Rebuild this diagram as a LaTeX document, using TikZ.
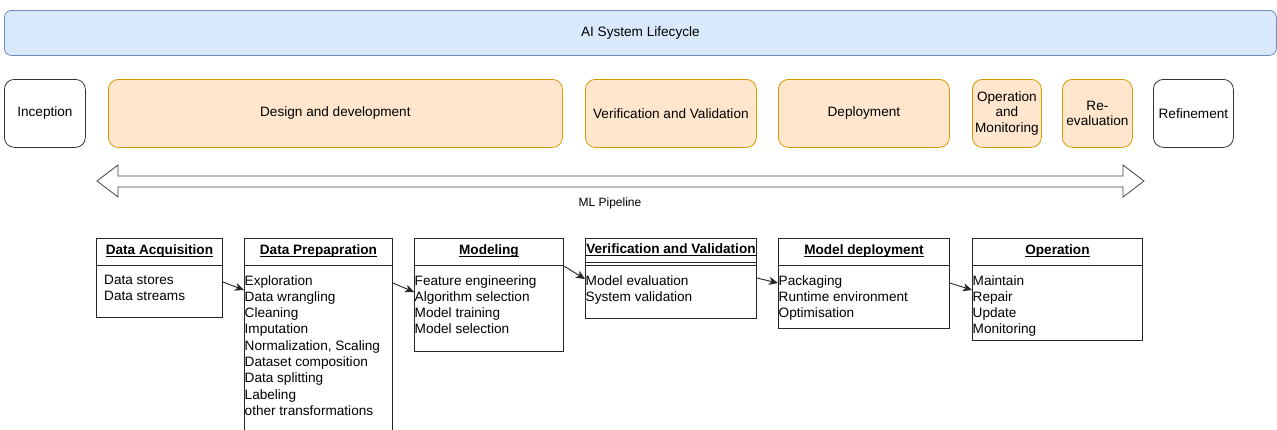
\documentclass[tikz,border=0pt]{standalone}
\usepackage{fontspec}
\setmainfont{Liberation Sans}
\usetikzlibrary{arrows.meta,calc}
\definecolor{bluefill}{HTML}{DAE8FC}
\definecolor{blueline}{HTML}{6C8EBF}
\definecolor{orfill}{HTML}{FFE6CC}
\definecolor{orline}{HTML}{D79B00}
\newcommand\myul[1]{\leavevmode\setbox0\hbox{#1}\dp0=0pt\vtop{\copy0\kern1.6pt\hrule height0.8pt}}
\begin{document}
\begin{tikzpicture}[x=1pt,y=-1pt,
 phase/.style={draw=orline, fill=orfill, rounded corners=10pt, line width=0.8pt, anchor=north west, inner sep=0pt, align=center, minimum height=68pt, font=\fontsize{13.6}{15.6}\selectfont},
 plainph/.style={phase, draw=black!80, fill=white},
 lane/.style={draw=black!85, line width=0.9pt, anchor=north west, inner sep=0pt},
 hdr/.style={font=\fontsize{13.6}{15}\selectfont\bfseries, inner sep=0pt},
 body/.style={anchor=north west, inner sep=0pt, align=left, font=\fontsize{13.6}{16.3}\selectfont},
 arr/.style={-{Stealth[length=9pt,width=8pt,inset=2.5pt]}, line width=0.9pt, black!85},
 hline/.style={draw=black!85, line width=0.9pt}
]
\useasboundingbox (0,0) rectangle (1277,429);
% top bar
\node[draw=blueline, fill=bluefill, rounded corners=7pt, line width=0.8pt, anchor=north west, minimum width=1272pt, minimum height=45pt, font=\fontsize{13.6}{15}\selectfont] (ai) at (4,10) {AI System Lifecycle};
% phases
\node[plainph, minimum width=81pt] (inc) at (4,79) {Inception};
\node[phase, minimum width=454pt] (des) at (108,79) {Design and development};
\node[phase, minimum width=171pt] (pvv) at (585,79) {Verification and Validation};
\node[phase, minimum width=171pt] (dep) at (778,79) {Deployment};
\node[phase, minimum width=69pt] (opm) at (972,79) {Operation\\and\\Monitoring};
\node[phase, minimum width=70pt] (ree) at (1062,79) {Re-\\evaluation};
\node[plainph, minimum width=80pt] (ref) at (1153,79) {Refinement};
% double arrow
\draw[fill=white, draw=black!75, line width=0.8pt] (97,181) -- (118,165) -- (118,176) -- (1123,176) -- (1123,165) -- (1144,181) -- (1123,197) -- (1123,187) -- (118,187) -- (118,197) -- cycle;
\node[font=\fontsize{12}{14}\selectfont] (ml) at (610,203) {ML Pipeline};
% lanes
\node[lane, minimum width=126pt, minimum height=79pt] (da) at (96,238) {};
\node[lane, minimum width=148pt, minimum height=200pt] (dp) at (244,238) {};
\node[lane, minimum width=149pt, minimum height=113pt] (mod) at (414,238) {};
\node[lane, minimum width=171pt, minimum height=80pt] (vv) at (585,238) {};
\node[lane, minimum width=171pt, minimum height=90pt] (md) at (778,238) {};
\node[lane, minimum width=170pt, minimum height=102pt] (op) at (972,238) {};
% header lines
\draw[hline] (da.west |- 0,265) -- (da.east |- 0,265);
\draw[hline] (dp.west |- 0,265) -- (dp.east |- 0,265);
\draw[hline] (mod.west |- 0,265) -- (mod.east |- 0,265);
\draw[hline] (vv.west |- 0,262) -- (vv.east |- 0,262);
\draw[hline] (vv.west |- 0,265.5) -- (vv.east |- 0,265.5);
\draw[hline] (md.west |- 0,265) -- (md.east |- 0,265);
\draw[hline] (op.west |- 0,265) -- (op.east |- 0,265);
% header texts
\node[hdr] (dah) at ($(da.north)+(0,12.5)$) {\myul{Data Acquisition}};
\node[hdr] (dph) at ($(dp.north)+(0,12.5)$) {\myul{Data Prepapration}};
\node[hdr] (modh) at ($(mod.north)+(0,12.5)$) {\myul{Modeling}};
\node[hdr] (vvh) at ($(vv.north)+(0,11.5)$) {\myul{Verification and Validation}};
\node[hdr] (mdh) at ($(md.north)+(0,12.5)$) {\myul{Model deployment}};
\node[hdr] (oph) at ($(op.north)+(0,12.5)$) {\myul{Operation}};
% bodies
\node[body] (dab) at (104,275) {Data stores\\Data streams};
\node[body] (dpb) at (244.5,275) {Exploration\\Data wrangling\\Cleaning\\Imputation\\Normalization, Scaling\\Dataset composition\\Data splitting\\Labeling\\other transformations};
\node[body] (modb) at (414.5,275) {Feature engineering\\Algorithm selection\\Model training\\Model selection};
\node[body] (vvb) at (585.5,275) {Model evaluation\\System validation};
\node[body] (mdb) at (778.5,275) {Packaging\\Runtime environment\\Optimisation};
\node[body] (opb) at (972.5,275) {Maintain\\Repair\\Update\\Monitoring};
% connectors
\draw[arr] (da.east |- 0,282) -- (dp.west |- 0,290);
\draw[arr] (dp.east |- 0,283) -- (mod.west |- 0,292);
\draw[arr] (mod.east |- 0,266) -- (vv.west |- 0,279);
\draw[arr] (vv.east |- 0,278) -- (md.west |- 0,283);
\draw[arr] (md.east |- 0,283) -- (op.west |- 0,290);
\end{tikzpicture}
\end{document}
